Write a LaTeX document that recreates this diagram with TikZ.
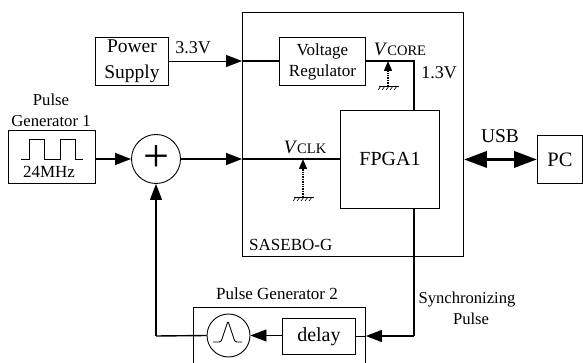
\documentclass[tikz,border=0pt]{standalone}
\usepackage{fontspec}
\setmainfont{Liberation Serif}
\usetikzlibrary{arrows.meta,patterns}
\begin{document}
\begin{tikzpicture}[
              x=1pt,y=-1pt,
              block/.style={
                  draw,
                  line width=0.9pt,
                  inner sep=0pt,
                  anchor=north west,
                  align=center,
                },
              sumnode/.style={
                  draw,
                  circle,
                  line width=0.9pt,
                  inner sep=0pt,
                },
              label/.style={inner sep=0pt,align=center},
              wire/.style={line width=1.4pt},
              thinwire/.style={line width=0.9pt},
              tip/.style={-{Triangle[length=16pt,width=12pt]}},
              probe/.style={densely dotted,line width=1.4pt,-{Triangle[length=10pt,width=8pt]}},
              hatch/.style={line width=0.6pt},
            ]
            \useasboundingbox (0,0) rectangle (583,363);
            % blocks
            \node[block,minimum width=221pt,minimum height=244pt] (board) at (242,12) {};
            \node[block,minimum width=73pt,minimum height=48pt,font=\fontsize{19.5}{26}\selectfont] (supply) at (95,37) {Power\\Supply};
            \node[block,minimum width=86pt,minimum height=48pt,font=\fontsize{17}{21}\selectfont] (reg) at (279,37) {Voltage\\Regulator};
            \node[block,minimum width=99pt,minimum height=98pt,font=\fontsize{20}{20}\selectfont] (fpga) at (340,110) {FPGA1};
            \node[block,minimum width=45pt,minimum height=48pt,font=\fontsize{20.5}{20}\selectfont] (pc) at (537,135) {PC};
            \node[block,minimum width=87pt,minimum height=53pt] (gen1) at (8,130) {};
            \node[block,minimum width=172pt,minimum height=60pt] (gen2) at (193,307) {};
            \node[block,minimum width=73pt,minimum height=36pt,font=\fontsize{20}{20}\selectfont] (delay) at (282,318) {delay};
            \node[sumnode,minimum size=49pt,font=\fontsize{46}{46}\selectfont] (sum) at (156,159) {+};
            \node[sumnode,minimum size=43pt] (peak) at (228.5,335.5) {};
            % waveforms
            \draw[thinwire] (21,159) -- (29,159) -- (29,139) -- (44,139) -- (44,159) -- (60,159) -- (60,139) -- (75,139) -- (75,159) -- (83,159);
            \draw[thinwire,rounded corners=1.5pt] (213,342) -- (221,342) -- (228,321) -- (235,342) -- (242,342);
            % connectors
            \coordinate (boardsum) at (242,159);
            \coordinate (boardreg) at (242,61);
            \coordinate (corner) at (414,61);
            \coordinate (vcore) at (388,61);
            \coordinate (vclk) at (303,159);
            \coordinate (turn) at (414,336);
            \coordinate (back) at (156,336);
            \coordinate (coregnd) at (388,86);
            \coordinate (clkgnd) at (303,197);
            \draw[thinwire,tip] (supply.east |- boardreg) -- (boardreg);
            \draw[wire] (boardreg) -- (reg.west |- boardreg);
            \draw[wire] (reg.east |- corner) -- (corner) -- (fpga.north -| corner);
            \draw[wire,tip] (gen1.east |- sum) -- (sum);
            \draw[wire,tip] (sum) -- (boardsum);
            \draw[wire] (boardsum) -- (fpga.west |- boardsum);
            \draw[wire] (fpga.south -| turn) -- (turn);
            \draw[wire,tip] (turn) -- (gen2.east |- turn);
            \draw[thinwire] (gen2.east |- turn) -- (delay.east |- turn);
            \draw[thinwire,tip] (delay.west |- peak) -- (peak);
            \draw[wire] (peak.west) -- (back);
            \draw[wire,tip] (back) -- (sum);
            \draw[line width=3.5pt,{Triangle[length=23pt,width=16pt]}-{Triangle[length=23pt,width=16pt]}] (board.east |- pc) -- (pc.west);
            % probes
            \draw[probe] (coregnd) -- (vcore);
            \draw[probe] (clkgnd) -- (vclk);
            \draw[hatch] (379,86) -- (399,86);
            \draw[hatch] (294,197) -- (314,197);
            \foreach \Xpos in {381,385,389,393,397}
            \draw[hatch] (\Xpos,86) -- ++(-3,4);
            \foreach \Xpos in {296,300,304,308,312}
            \draw[hatch] (\Xpos,197) -- ++(-3,4);
            % labels
            \node[label,font=\fontsize{16.7}{21}\selectfont] (gen1name) at (51,110.5) {Pulse\\Generator 1};
            \node[label,font=\fontsize{17}{17}\selectfont] (clock) at (49,172) {24MHz};
            \node[label,font=\fontsize{18}{18}\selectfont] (supplyvolt) at (193,48) {3.3V};
            \node[label,font=\fontsize{18}{18}\selectfont] (corevolt) at (439,73) {1.3V};
            \node[label,font=\fontsize{19}{19}\selectfont] (corename) at (400,49) {\textit{V}\fontsize{14.5}{14.5}\selectfont CORE};
            \node[label,font=\fontsize{19}{19}\selectfont] (clkname) at (305,147) {\textit{V}\fontsize{14.5}{14.5}\selectfont CLK};
            \node[label,font=\fontsize{19.5}{19.5}\selectfont] (usb) at (500,136) {USB};
            \node[label,font=\fontsize{17}{17}\selectfont,anchor=west] (boardname) at (249,245) {SASEBO-G};
            \node[label,font=\fontsize{17}{17}\selectfont] (gen2name) at (277,294) {Pulse Generator 2};
            \node[label,font=\fontsize{16.6}{21}\selectfont] (syncname) at (467,308) {Synchronizing\\\hspace{8pt}Pulse};
          \end{tikzpicture}
\end{document}
